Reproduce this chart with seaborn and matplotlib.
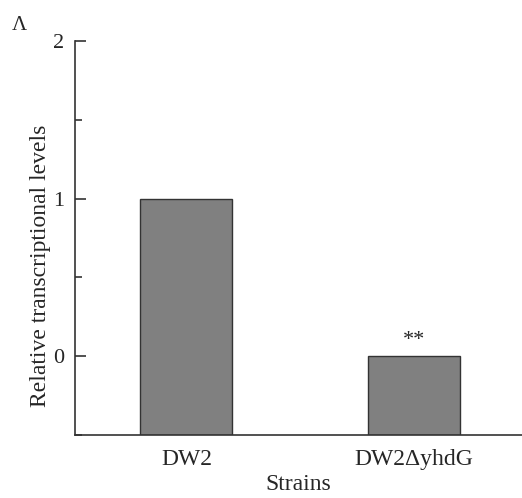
import matplotlib
matplotlib.use("Agg")
import matplotlib.pyplot as plt
import seaborn as sns
import pandas as pd
from matplotlib.ticker import MultipleLocator

strains = ["DW2", "DW2\u0394yhdG"]
levels = [1.0, 0.0]
marks = ["", "**"]

sns.set_style("ticks")
plt.rcParams["font.family"] = ["Liberation Serif", "DejaVu Serif"]

df = pd.DataFrame({"Strains": strains, "level": levels})

fig = plt.figure(figsize=(5.22, 4.98), dpi=100)
ax = fig.add_axes([0.1437, 0.1265, 0.856, 0.791])

sns.barplot(data=df, x="Strains", y="level", color="#808080", saturation=1,
            width=0.405, edgecolor="#333333", linewidth=1.0, ax=ax)

# bars start at the bottom of the axis
y_min = -0.5
for bar in ax.patches:
    top = bar.get_y() + bar.get_height()
    bar.set_y(y_min)
    bar.set_height(top - y_min)

for i, (v, m) in enumerate(zip(levels, marks)):
    if m:
        ax.text(i, v + 0.04, m, ha="center", va="bottom", fontsize=16)

ax.set_ylim(y_min, 2)
ax.set_xlim(-0.49, 1.475)
ax.yaxis.set_major_locator(MultipleLocator(1))
ax.yaxis.set_minor_locator(MultipleLocator(0.5))
ax.tick_params(axis="y", which="major", direction="in", length=8, width=1.2,
               labelsize=16, pad=8, color="#333333")
ax.tick_params(axis="y", which="minor", direction="in", length=5, width=1.2,
               color="#333333")
ax.tick_params(axis="x", length=0, labelsize=17, pad=10)
for s in ["top", "right"]:
    ax.spines[s].set_visible(False)
for s in ["left", "bottom"]:
    ax.spines[s].set_color("#333333")
    ax.spines[s].set_linewidth(1.2)

ax.set_xlabel("Strains", fontsize=17, labelpad=3)
ax.set_ylabel("Relative transcriptional levels", fontsize=17)
ax.yaxis.set_label_coords(-0.054, 0.43)
fig.text(0.022, 0.94, "\u039b", fontsize=15)

fig.savefig("out.png", dpi=100)
